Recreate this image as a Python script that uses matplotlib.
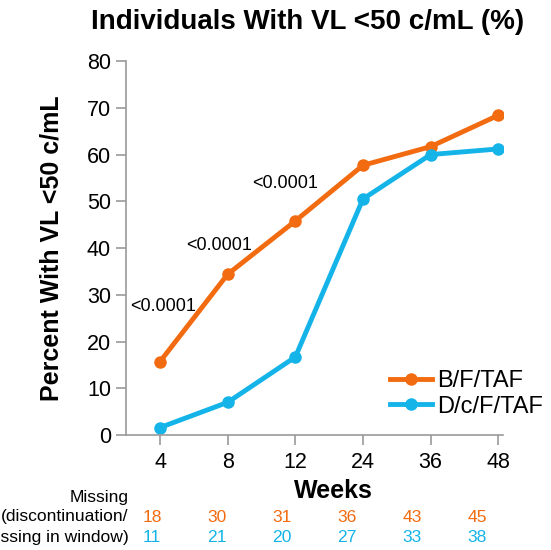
import matplotlib.pyplot as plt

plt.rcParams['font.family'] = ['Liberation Sans', 'DejaVu Sans']

weeks = ['4', '8', '12', '24', '36', '48']
bft = [15.7, 34.4, 45.8, 57.7, 61.7, 68.4]
dcft = [1.6, 7.0, 16.7, 50.5, 60.0, 61.2]
missing_bft = [18, 30, 31, 36, 43, 45]
missing_dcft = [11, 21, 20, 27, 33, 38]
p_labels = ['<0.0001', '<0.0001', '<0.0001']

orange = '#F26B10'
blue = '#14B4E8'
grey = '#999999'

fig = plt.figure(figsize=(5.51, 5.5), dpi=100)
ax = fig.add_axes([0.229, 0.209, 0.684, 0.68])

x = list(range(len(weeks)))
ax.plot(x, bft, color=orange, lw=3.5, marker='o', ms=8, label='B/F/TAF')
ax.plot(x, dcft, color=blue, lw=3.5, marker='o', ms=8, label='D/c/F/TAF')

# p-values above the first three timepoints
p_offsets = [(0.04, 11.7), (-0.13, 6.2), (-0.15, 8.1)]
for i, lab in enumerate(p_labels):
    dx, dy = p_offsets[i]
    ax.text(x[i] + dx, bft[i] + dy, lab, ha='center', va='center', fontsize=13)

ax.set_xlim(-0.5, 5.07)
ax.set_ylim(0, 80)
ax.set_yticks(range(0, 81, 10))
ax.set_xticks(x)
ax.set_xticklabels(weeks)
ax.tick_params(axis='both', labelsize=15.5, color=grey, length=7, width=1.2)
ax.tick_params(axis='x', pad=5)
ax.tick_params(axis='y', pad=4)
for side in ['top', 'right']:
    ax.spines[side].set_visible(False)
for side in ['left', 'bottom']:
    ax.spines[side].set_color(grey)
    ax.spines[side].set_linewidth(1.2)

ax.set_ylabel('Percent With VL <50 c/mL', fontsize=18, fontweight='bold', labelpad=17)
fig.text(0.558, 0.96, 'Individuals With VL <50 c/mL (%)', ha='center', va='center',
         fontsize=20, fontweight='bold')
fig.text(0.605, 0.108, 'Weeks', ha='center', va='center', fontsize=18, fontweight='bold')

leg = ax.legend(loc='center right', bbox_to_anchor=(1.13, 0.11), frameon=False,
                fontsize=17, handlelength=1.8, handletextpad=0.2, labelspacing=0.15,
                borderaxespad=0)

# missing-data counts under the axis
fig.text(0.233, 0.095, 'Missing', ha='right', va='center', fontsize=12.6)
fig.text(0.233, 0.060, '(discontinuation/', ha='right', va='center', fontsize=12.6)
fig.text(0.233, 0.022, 'missing in window)', ha='right', va='center', fontsize=12.6)
for i in x:
    xf = (152 + 65 * i) / 551
    fig.text(xf, 0.060, str(missing_bft[i]), ha='center', va='center',
             fontsize=12.6, color=orange)
    fig.text(xf, 0.022, str(missing_dcft[i]), ha='center', va='center',
             fontsize=12.6, color=blue)

fig.savefig('out.png', dpi=100)
